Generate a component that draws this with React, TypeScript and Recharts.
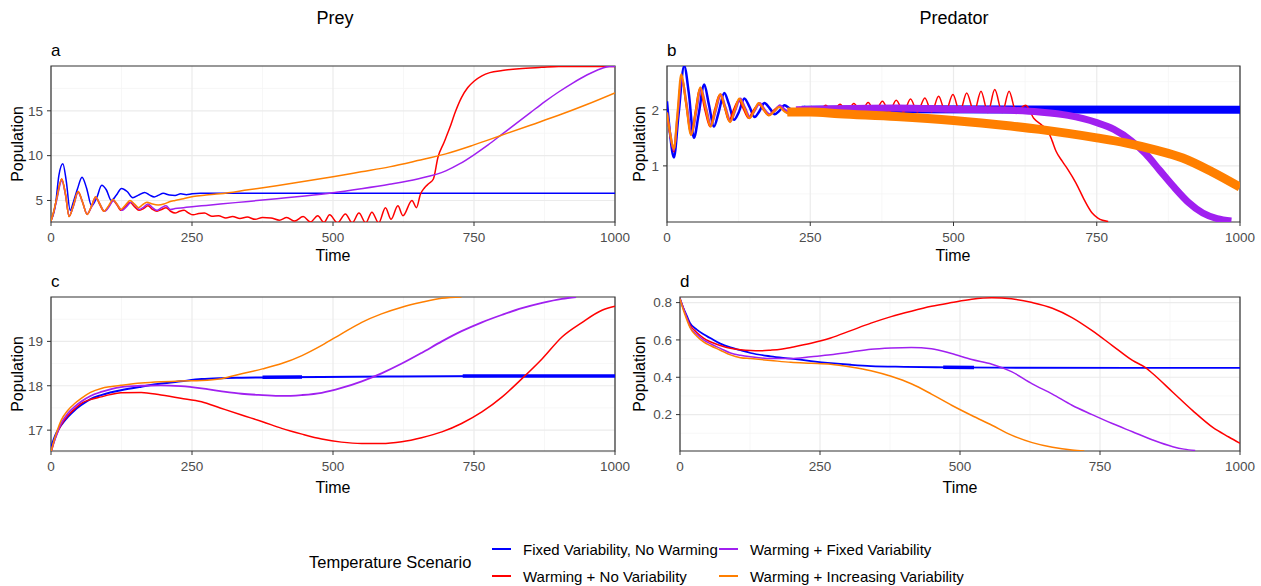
import { CartesianGrid, Line, LineChart, ReferenceArea, XAxis, YAxis } from 'recharts'

const FONT = "'Liberation Sans', Arial, sans-serif"
const BLUE = '#0000FF'
const RED = '#FF0000'
const PURPLE = '#A020F0'
const ORANGE = '#FF7F00'
const AXIS = '#333333'
const MAJOR_GRID = '#EBEBEB'
const MINOR_GRID = '#F4F4F4'

const SCENARIOS = [
  'Fixed Variability, No Warming',
  'Warming + No Variability',
  'Warming + Fixed Variability',
  'Warming + Increasing Variability',
]

const TIME_TICKS = [0, 250, 500, 750, 1000]
const TIME_MINOR = [125, 375, 625, 875]

// ---- panel a: prey, oscillating ----
const preyA_fixed_t = [0, 4, 8, 14, 21, 27, 34, 40, 47, 55, 63, 72, 81, 90, 98, 107, 116, 125, 135, 145, 155, 166, 175, 183, 191, 199, 210, 220, 230, 240, 250, 265, 280, 1000]
const preyA_fixed_v = [2.8, 3.4, 4.6, 7.8, 9.1, 7.2, 3.9, 4.9, 6.3, 7.6, 6.4, 4.4, 5.3, 6.7, 6.2, 5.0, 5.6, 6.35, 6.0, 5.3, 5.6, 5.9, 5.6, 5.4, 5.6, 5.8, 5.6, 5.55, 5.75, 5.65, 5.75, 5.8, 5.8, 5.8]

const preyA_noVar_t = [0, 5, 10, 19, 26, 32, 40, 48, 56, 64, 72, 79, 86, 94, 102, 110, 117, 124, 132, 140, 148, 156, 164, 172, 180, 188, 196, 204, 212, 220, 228, 236, 244, 252, 262, 272, 285, 297, 310, 322, 335, 348, 362, 375, 390, 405, 418, 432, 447, 460, 473, 484, 494, 508, 522, 534, 546, 558, 569, 581, 593, 603, 615, 624, 640, 648, 655, 662, 670, 678, 686, 697, 707, 717, 728, 739, 750, 764, 778, 800, 830, 870, 900, 1000]
const preyA_noVar_v = [2.7, 3.8, 5.2, 7.4, 5.6, 3.2, 4.5, 6.0, 4.8, 3.45, 4.4, 5.4, 4.6, 3.8, 4.3, 5.0, 4.5, 3.9, 4.3, 4.8, 4.3, 3.9, 4.1, 4.4, 4.0, 3.8, 4.0, 4.2, 3.8, 3.6, 3.8, 3.9, 3.6, 3.4, 3.55, 3.6, 3.25, 3.3, 3.05, 3.2, 3.0, 3.15, 2.9, 3.1, 3.05, 2.8, 3.1, 2.7, 3.2, 2.6, 3.3, 2.55, 3.4, 2.5, 3.5, 2.5, 3.6, 2.5, 3.7, 2.5, 4.2, 2.9, 4.4, 3.3, 5.0, 4.2, 5.7, 6.4, 6.9, 7.4, 9.8, 11.5, 13.1, 14.9, 16.5, 17.6, 18.3, 18.9, 19.26, 19.5, 19.7, 19.85, 19.95, 19.95]

const preyA_fixedVar_t = [0, 5, 10, 19, 26, 32, 40, 48, 56, 64, 72, 80, 87, 95, 103, 111, 118, 126, 134, 142, 150, 157, 165, 172, 180, 188, 196, 204, 212, 220, 235, 250, 275, 300, 350, 400, 450, 500, 550, 600, 650, 700, 725, 750, 775, 800, 825, 850, 875, 900, 925, 950, 975, 990, 1000]
const preyA_fixedVar_v = [2.7, 3.7, 5.0, 7.2, 5.5, 3.3, 4.4, 5.9, 4.8, 3.5, 4.3, 5.3, 4.6, 3.8, 4.3, 5.0, 4.5, 3.9, 4.3, 4.8, 4.4, 4.0, 4.3, 4.6, 4.2, 3.9, 4.2, 4.4, 4.0, 4.1, 4.2, 4.3, 4.45, 4.6, 4.9, 5.2, 5.5, 5.85, 6.3, 6.8, 7.4, 8.3, 9.1, 10.1, 11.2, 12.4, 13.6, 14.8, 16.0, 17.1, 18.1, 19.0, 19.7, 19.95, 19.95]

const preyA_incVar_t = [0, 5, 10, 19, 26, 32, 40, 48, 56, 64, 72, 79, 86, 94, 102, 110, 117, 124, 132, 140, 148, 155, 162, 170, 180, 190, 200, 210, 220, 235, 252, 275, 300, 350, 400, 450, 500, 550, 600, 650, 700, 750, 800, 850, 900, 950, 1000]
const preyA_incVar_v = [2.7, 3.8, 5.2, 7.4, 5.6, 3.2, 4.5, 6.0, 4.8, 3.45, 4.4, 5.4, 4.7, 3.8, 4.4, 5.1, 4.6, 4.0, 4.5, 5.0, 4.6, 4.2, 4.5, 4.8, 4.6, 4.5, 4.6, 4.85, 5.0, 5.2, 5.45, 5.6, 5.75, 6.2, 6.65, 7.15, 7.65, 8.2, 8.75, 9.45, 10.2, 11.2, 12.3, 13.4, 14.5, 15.7, 17.0]

// ---- panel b: predator, oscillating ----
const predB_fixed_t = [0, 5, 12, 20, 30, 38, 47, 55, 65, 73, 82, 90, 100, 108, 117, 125, 135, 144, 153, 161, 170, 179, 188, 196, 205, 213, 222, 231, 240, 250]
const predB_fixed_v = [2.15, 1.6, 1.15, 1.9, 2.78, 2.3, 1.5, 1.9, 2.45, 2.1, 1.7, 1.95, 2.3, 2.1, 1.82, 1.95, 2.2, 2.05, 1.87, 1.97, 2.12, 2.03, 1.92, 1.98, 2.08, 2.03, 1.95, 1.99, 2.05, 2.0]
const predB_fixedBand_t = [235, 400, 1000]
const predB_fixedBand_v = [2.0, 2.01, 2.0]

const predB_noVar_t = [0, 6, 12, 18, 25, 33, 42, 49, 57, 66, 75, 83, 92, 100, 108, 116, 125, 133, 142, 150, 160, 168, 177, 186, 195, 204, 213, 222, 231, 240, 252, 264, 277, 289, 302, 314, 326, 339, 351, 363, 376, 388, 400, 413, 425, 437, 450, 462, 474, 486, 499, 511, 523, 536, 548, 560, 572, 585, 597, 609, 626, 640, 655, 665, 672, 679, 690, 700, 714, 728, 742, 752, 760, 770]
const predB_noVar_v = [1.9, 1.5, 1.25, 1.8, 2.6, 2.1, 1.55, 1.95, 2.38, 2.0, 1.7, 2.0, 2.27, 2.05, 1.8, 2.0, 2.17, 2.02, 1.85, 1.98, 2.1, 2.0, 1.9, 1.99, 2.06, 1.99, 1.93, 1.99, 2.04, 1.97, 2.06, 1.96, 2.08, 1.96, 2.1, 1.96, 2.11, 1.96, 2.13, 1.96, 2.15, 1.96, 2.17, 1.96, 2.19, 1.96, 2.21, 1.96, 2.24, 1.96, 2.27, 1.96, 2.3, 1.96, 2.33, 1.95, 2.36, 1.95, 2.33, 1.97, 2.08, 1.85, 1.72, 1.62, 1.45, 1.26, 1.08, 0.93, 0.69, 0.4, 0.16, 0.07, 0.03, 0.01]

const predB_fixedVar_t = [0, 6, 12, 18, 26, 34, 43, 51, 59, 68, 77, 85, 94, 102, 111, 119, 128, 136, 145, 153, 162, 170, 179, 188, 197, 206, 215, 224, 233]
const predB_fixedVar_v = [1.95, 1.55, 1.28, 1.85, 2.55, 2.12, 1.57, 1.95, 2.38, 2.05, 1.72, 1.98, 2.27, 2.05, 1.8, 1.98, 2.2, 2.04, 1.87, 1.98, 2.12, 2.01, 1.92, 1.98, 2.08, 2.0, 1.95, 1.99, 2.02]
const predB_fixedVarBand_t = [225, 300, 400, 500, 600, 650, 700, 750, 780, 810, 835, 860, 885, 910, 935, 960, 985]
const predB_fixedVarBand_v = [2.0, 2.02, 2.03, 2.01, 1.99, 1.96, 1.9, 1.77, 1.65, 1.45, 1.22, 0.92, 0.62, 0.35, 0.16, 0.06, 0.02]

const predB_incVar_t = [0, 6, 12, 18, 25, 33, 42, 50, 58, 67, 76, 84, 93, 101, 110, 118, 126, 135, 144, 152, 160, 169, 178, 187, 196, 205, 213, 222]
const predB_incVar_v = [1.95, 1.55, 1.3, 1.9, 2.63, 2.15, 1.55, 1.95, 2.4, 2.05, 1.7, 1.98, 2.28, 2.05, 1.78, 1.98, 2.2, 2.03, 1.85, 1.98, 2.12, 2.0, 1.9, 1.97, 2.05, 1.97, 1.93, 1.96]
const predB_incVarBand_t = [210, 250, 300, 400, 500, 600, 650, 700, 750, 800, 850, 900, 950, 1000]
const predB_incVarBand_v = [1.96, 1.96, 1.93, 1.88, 1.81, 1.71, 1.65, 1.58, 1.5, 1.41, 1.29, 1.14, 0.9, 0.62]

// ---- panel c: prey, smooth ----
const preyC_fixed_t = [0, 5, 10, 18, 30, 42, 53, 70, 89, 105, 124, 160, 195, 230, 267, 300, 338, 400, 480, 600, 800, 1000]
const preyC_fixed_v = [16.6, 16.8, 16.95, 17.11, 17.3, 17.45, 17.56, 17.7, 17.79, 17.85, 17.9, 17.98, 18.05, 18.1, 18.15, 18.17, 18.18, 18.19, 18.2, 18.21, 18.22, 18.22]
const preyC_fixedBand1_t = [375, 445]
const preyC_fixedBand1_v = [18.19, 18.195]
const preyC_fixedBand2_t = [730, 1000]
const preyC_fixedBand2_v = [18.22, 18.22]

const preyC_noVar_t = [0, 5, 10, 18, 30, 42, 53, 70, 89, 105, 124, 160, 195, 230, 267, 300, 338, 375, 409, 445, 480, 515, 551, 586, 622, 657, 693, 728, 764, 800, 835, 871, 906, 942, 977, 1000]
const preyC_noVar_v = [16.5, 16.72, 16.9, 17.12, 17.33, 17.48, 17.6, 17.69, 17.75, 17.8, 17.84, 17.85, 17.79, 17.72, 17.64, 17.5, 17.34, 17.19, 17.04, 16.91, 16.8, 16.73, 16.7, 16.7, 16.74, 16.83, 16.96, 17.15, 17.41, 17.75, 18.16, 18.61, 19.1, 19.43, 19.7, 19.79]

const preyC_fixedVar_t = [0, 5, 10, 18, 30, 42, 53, 70, 89, 105, 124, 160, 195, 230, 267, 300, 338, 375, 409, 444, 480, 515, 551, 586, 622, 657, 693, 728, 764, 800, 835, 871, 906, 931]
const preyC_fixedVar_v = [16.5, 16.72, 16.9, 17.15, 17.38, 17.53, 17.64, 17.77, 17.86, 17.92, 17.97, 18.0, 18.01, 17.99, 17.94, 17.88, 17.82, 17.79, 17.77, 17.79, 17.84, 17.95, 18.1, 18.28, 18.5, 18.74, 19.0, 19.23, 19.43, 19.6, 19.75, 19.87, 19.96, 20.0]

const preyC_incVar_t = [0, 5, 10, 18, 30, 42, 53, 70, 89, 105, 124, 160, 195, 230, 267, 302, 338, 375, 409, 445, 480, 515, 551, 586, 622, 657, 693, 728]
const preyC_incVar_v = [16.5, 16.75, 16.95, 17.22, 17.45, 17.6, 17.71, 17.85, 17.94, 17.98, 18.01, 18.06, 18.09, 18.11, 18.12, 18.16, 18.27, 18.38, 18.5, 18.68, 18.91, 19.17, 19.43, 19.62, 19.77, 19.88, 19.97, 20.0]

// ---- panel d: predator, smooth ----
const predD_fixed_t = [0, 6, 12, 18, 30, 42, 54, 72, 90, 108, 126, 162, 198, 234, 269, 305, 341, 400, 485, 600, 1000]
const predD_fixed_v = [0.82, 0.77, 0.73, 0.69, 0.655, 0.63, 0.61, 0.58, 0.56, 0.545, 0.53, 0.512, 0.5, 0.487, 0.476, 0.467, 0.46, 0.456, 0.453, 0.451, 0.45]
const predD_fixedBand_t = [470, 525]
const predD_fixedBand_v = [0.4535, 0.4525]

const predD_noVar_t = [0, 6, 12, 18, 30, 42, 54, 72, 90, 108, 126, 144, 162, 180, 198, 234, 269, 305, 341, 377, 413, 449, 485, 521, 557, 592, 629, 665, 700, 736, 772, 808, 832, 844, 880, 916, 952, 980, 1000]
const predD_noVar_v = [0.82, 0.77, 0.72, 0.68, 0.64, 0.61, 0.59, 0.57, 0.555, 0.547, 0.543, 0.542, 0.545, 0.55, 0.56, 0.582, 0.61, 0.65, 0.69, 0.725, 0.754, 0.78, 0.8, 0.818, 0.826, 0.82, 0.8, 0.77, 0.72, 0.65, 0.57, 0.49, 0.45, 0.42, 0.32, 0.22, 0.13, 0.08, 0.046]

const predD_fixedVar_t = [0, 6, 12, 18, 30, 42, 54, 72, 90, 108, 126, 162, 198, 234, 269, 305, 341, 377, 413, 449, 485, 521, 557, 592, 629, 665, 700, 736, 772, 808, 844, 880, 900, 920]
const predD_fixedVar_v = [0.82, 0.77, 0.72, 0.67, 0.63, 0.6, 0.58, 0.555, 0.53, 0.518, 0.51, 0.5, 0.5, 0.51, 0.52, 0.535, 0.55, 0.557, 0.56, 0.553, 0.527, 0.495, 0.47, 0.43, 0.365, 0.31, 0.25, 0.2, 0.152, 0.108, 0.064, 0.028, 0.015, 0.008]

const predD_incVar_t = [0, 6, 12, 18, 30, 42, 54, 72, 90, 108, 126, 162, 198, 234, 269, 305, 341, 377, 413, 449, 485, 521, 557, 592, 629, 665, 700, 722]
const predD_incVar_v = [0.82, 0.76, 0.71, 0.665, 0.62, 0.59, 0.57, 0.545, 0.52, 0.505, 0.5, 0.49, 0.48, 0.475, 0.47, 0.455, 0.435, 0.405, 0.365, 0.31, 0.25, 0.195, 0.143, 0.09, 0.05, 0.025, 0.01, 0.005]

type Pt = { t: number; v: number }
const zip = (t: number[], v: number[]): Pt[] => t.map((x, i) => ({ t: x, v: v[i] }))

type Series = { key: string; color: string; width: number; t: number[]; v: number[] }

const panelA: Series[] = [
  { key: 'fixed', color: BLUE, width: 1.5, t: preyA_fixed_t, v: preyA_fixed_v },
  { key: 'noVar', color: RED, width: 1.5, t: preyA_noVar_t, v: preyA_noVar_v },
  { key: 'fixedVar', color: PURPLE, width: 1.5, t: preyA_fixedVar_t, v: preyA_fixedVar_v },
  { key: 'incVar', color: ORANGE, width: 1.5, t: preyA_incVar_t, v: preyA_incVar_v },
]
const panelB: Series[] = [
  { key: 'fixed', color: BLUE, width: 2.5, t: predB_fixed_t, v: predB_fixed_v },
  { key: 'fixedBand', color: BLUE, width: 8, t: predB_fixedBand_t, v: predB_fixedBand_v },
  { key: 'noVar', color: RED, width: 1.5, t: predB_noVar_t, v: predB_noVar_v },
  { key: 'fixedVar', color: PURPLE, width: 2.2, t: predB_fixedVar_t, v: predB_fixedVar_v },
  { key: 'fixedVarBand', color: PURPLE, width: 7, t: predB_fixedVarBand_t, v: predB_fixedVarBand_v },
  { key: 'incVar', color: ORANGE, width: 2.2, t: predB_incVar_t, v: predB_incVar_v },
  { key: 'incVarBand', color: ORANGE, width: 9, t: predB_incVarBand_t, v: predB_incVarBand_v },
]
const panelC: Series[] = [
  { key: 'fixed', color: BLUE, width: 2, t: preyC_fixed_t, v: preyC_fixed_v },
  { key: 'fixedBand1', color: BLUE, width: 3.5, t: preyC_fixedBand1_t, v: preyC_fixedBand1_v },
  { key: 'fixedBand2', color: BLUE, width: 3.5, t: preyC_fixedBand2_t, v: preyC_fixedBand2_v },
  { key: 'noVar', color: RED, width: 1.5, t: preyC_noVar_t, v: preyC_noVar_v },
  { key: 'fixedVar', color: PURPLE, width: 1.8, t: preyC_fixedVar_t, v: preyC_fixedVar_v },
  { key: 'incVar', color: ORANGE, width: 1.5, t: preyC_incVar_t, v: preyC_incVar_v },
]
const panelD: Series[] = [
  { key: 'fixed', color: BLUE, width: 1.8, t: predD_fixed_t, v: predD_fixed_v },
  { key: 'fixedBand', color: BLUE, width: 3.5, t: predD_fixedBand_t, v: predD_fixedBand_v },
  { key: 'noVar', color: RED, width: 1.5, t: predD_noVar_t, v: predD_noVar_v },
  { key: 'fixedVar', color: PURPLE, width: 1.5, t: predD_fixedVar_t, v: predD_fixedVar_v },
  { key: 'incVar', color: ORANGE, width: 1.5, t: predD_incVar_t, v: predD_incVar_v },
]

const tickStyle = { fill: '#4D4D4D', fontSize: 13.5, fontFamily: FONT }

type PanelProps = {
  x: number
  y: number
  w: number
  h: number
  top: number
  right: number
  bottom: number
  yAxisW: number
  domain: [number, number]
  yTicks: number[]
  yMinor: number[]
  series: Series[]
}

function Panel({ x, y, w, h, top, right, bottom, yAxisW, domain, yTicks, yMinor, series }: PanelProps) {
  return (
    <div style={{ position: 'absolute', left: x, top: y }}>
      <LineChart width={w} height={h} margin={{ top, right, bottom, left: 0 }}>
        <CartesianGrid verticalValues={TIME_MINOR} horizontalValues={yMinor} stroke={MINOR_GRID} strokeWidth={0.7} />
        <CartesianGrid verticalValues={TIME_TICKS} horizontalValues={yTicks} stroke={MAJOR_GRID} strokeWidth={1.2} />
        <XAxis
          type="number"
          dataKey="t"
          domain={[0, 1000]}
          ticks={TIME_TICKS}
          interval={0}
          allowDataOverflow
          axisLine={false}
          tickLine={{ stroke: AXIS }}
          tickSize={4}
          tickMargin={6}
          tick={tickStyle}
          height={30}
        />
        <YAxis
          type="number"
          domain={domain}
          ticks={yTicks}
          interval={0}
          allowDataOverflow
          axisLine={false}
          tickLine={{ stroke: AXIS }}
          tickSize={4}
          tickMargin={4}
          tick={tickStyle}
          width={yAxisW}
        />
        <ReferenceArea x1={0} x2={1000} y1={domain[0]} y2={domain[1]} fill="none" stroke={AXIS} strokeWidth={1.2} />
        {series.map((s) => (
          <Line
            key={s.key}
            data={zip(s.t, s.v)}
            dataKey="v"
            type="monotone"
            stroke={s.color}
            strokeWidth={s.width}
            dot={false}
            activeDot={false}
            isAnimationActive={false}
          />
        ))}
      </LineChart>
    </div>
  )
}

function Txt({ x, y, size, children, rotate = false, left = false }: { x: number; y: number; size: number; children: string; rotate?: boolean; left?: boolean }) {
  return (
    <div
      style={{
        position: 'absolute',
        left: x,
        top: y,
        fontSize: size,
        lineHeight: 1,
        whiteSpace: 'nowrap',
        color: '#000',
        transform: `translate(${left ? '0' : '-50%'}, -50%)${rotate ? ' rotate(-90deg)' : ''}`,
      }}
    >
      {children}
    </div>
  )
}

function LegendItem({ x, y, color, label }: { x: number; y: number; color: string; label: string }) {
  return (
    <>
      <div style={{ position: 'absolute', left: x, top: y - 1, width: 19, height: 1.5, background: color }} />
      <Txt x={x + 31} y={y} size={15} left>
        {label}
      </Txt>
    </>
  )
}

export default function App() {
  return (
    <div style={{ position: 'absolute', left: 0, top: 0, width: 1261, height: 586, background: '#fff', fontFamily: FONT, overflow: 'hidden' }}>
      <Panel x={0} y={0} w={630} h={270} top={66} right={15} bottom={18} yAxisW={51} domain={[2.6, 20]} yTicks={[5, 10, 15]} yMinor={[7.5, 12.5, 17.5]} series={panelA} />
      <Panel x={630} y={0} w={631} h={270} top={66} right={21} bottom={18} yAxisW={37} domain={[0, 2.78]} yTicks={[1, 2]} yMinor={[0.5, 1.5, 2.5]} series={panelB} />
      <Panel x={0} y={230} w={630} h={270} top={67} right={15} bottom={19} yAxisW={51} domain={[16.53, 20]} yTicks={[17, 18, 19]} yMinor={[16.5, 17.5, 18.5, 19.5]} series={panelC} />
      <Panel x={630} y={230} w={631} h={270} top={67} right={21} bottom={19} yAxisW={50} domain={[0.005, 0.83]} yTicks={[0.2, 0.4, 0.6, 0.8]} yMinor={[0.1, 0.3, 0.5, 0.7]} series={panelD} />

      <Txt x={335} y={18} size={18}>Prey</Txt>
      <Txt x={954} y={18} size={18}>Predator</Txt>

      <Txt x={51} y={50} size={17} left>a</Txt>
      <Txt x={667} y={50} size={17} left>b</Txt>
      <Txt x={51} y={281} size={17} left>c</Txt>
      <Txt x={680} y={281} size={17} left>d</Txt>

      <Txt x={18} y={144} size={16} rotate>Population</Txt>
      <Txt x={640} y={144} size={16} rotate>Population</Txt>
      <Txt x={18} y={374} size={16} rotate>Population</Txt>
      <Txt x={640} y={374} size={16} rotate>Population</Txt>

      <Txt x={333} y={256} size={16}>Time</Txt>
      <Txt x={953} y={256} size={16}>Time</Txt>
      <Txt x={333} y={488} size={16}>Time</Txt>
      <Txt x={960} y={488} size={16}>Time</Txt>

      <Txt x={309} y={562} size={16.5} left>Temperature Scenario</Txt>
      <LegendItem x={492} y={549} color={BLUE} label={SCENARIOS[0]} />
      <LegendItem x={492} y={576} color={RED} label={SCENARIOS[1]} />
      <LegendItem x={719} y={549} color={PURPLE} label={SCENARIOS[2]} />
      <LegendItem x={719} y={576} color={ORANGE} label={SCENARIOS[3]} />
    </div>
  )
}
